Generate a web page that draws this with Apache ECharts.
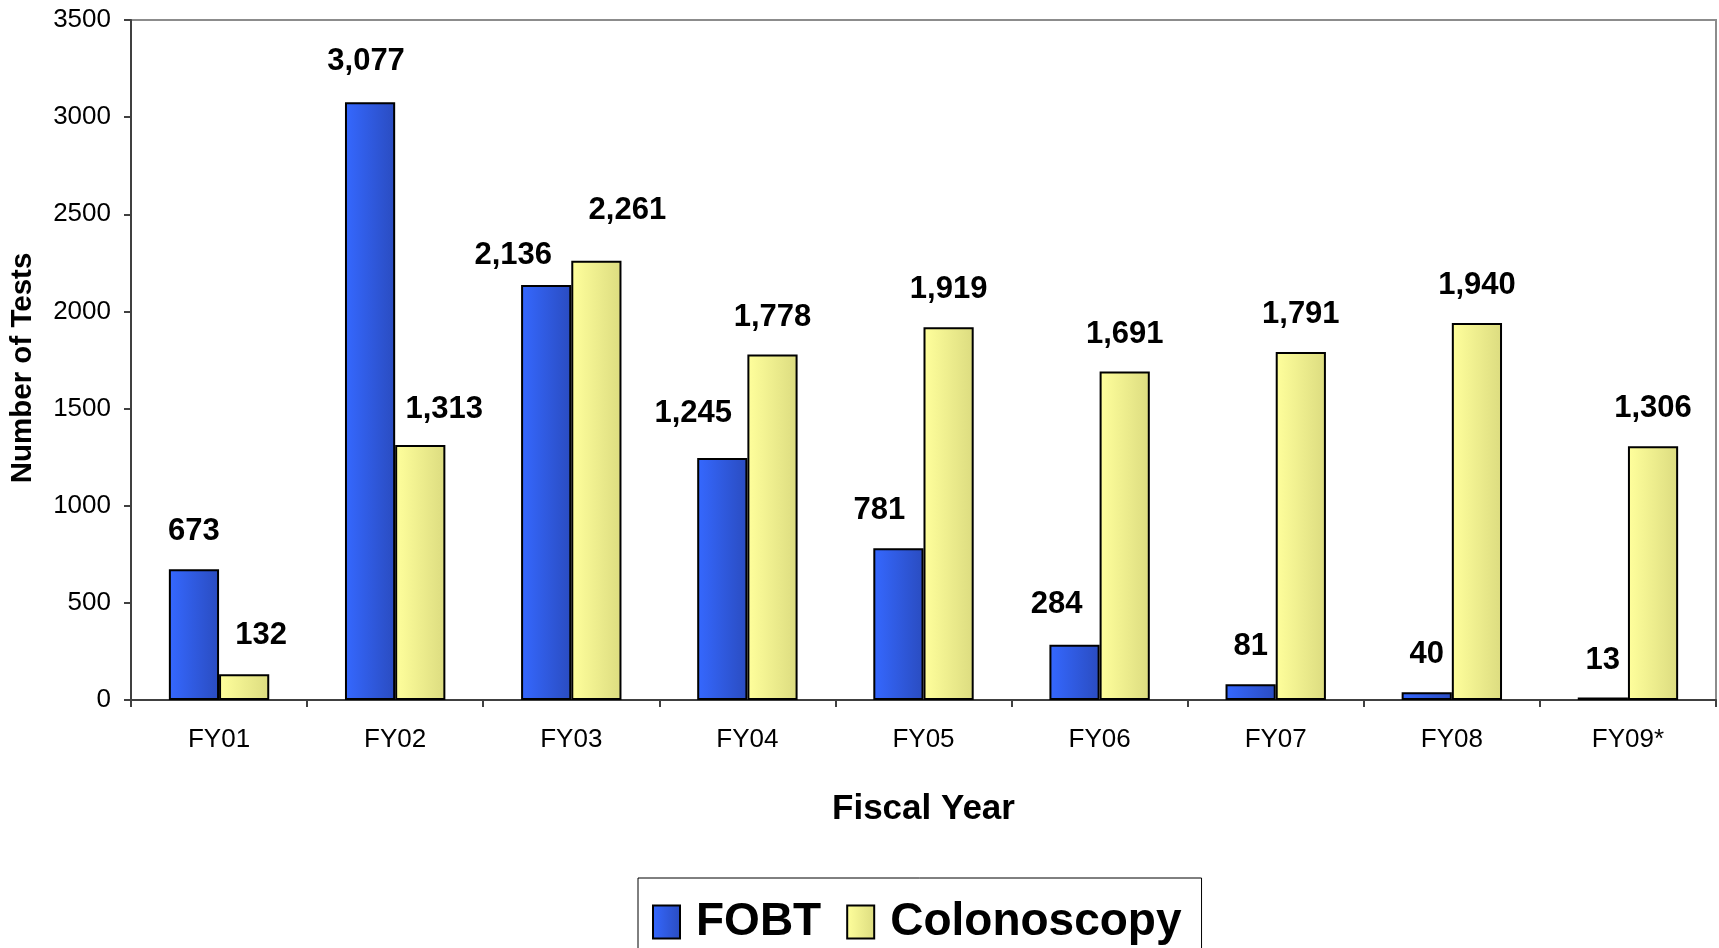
<!DOCTYPE html>
<html>
<head>
<meta charset="utf-8">
<title>Number of Tests by Fiscal Year</title>
<script src="https://cdn.jsdelivr.net/npm/echarts@6/dist/echarts.min.js"></script>
<style>
  html, body { margin: 0; padding: 0; background: #fff; }
  #chart { width: 1719px; height: 948px; }
</style>
</head>
<body>
<div id="chart"></div>
<script>
// data
const years = ["FY01", "FY02", "FY03", "FY04", "FY05", "FY06", "FY07", "FY08", "FY09*"];
const fobt = [673, 3077, 2136, 1245, 781, 284, 81, 40, 13];
const colonoscopy = [132, 1313, 2261, 1778, 1919, 1691, 1791, 1940, 1306];
const yTicks = [0, 500, 1000, 1500, 2000, 2500, 3000, 3500];

// label nudges (x, y) so the labels don't collide, like the original
const fobtLabelShift = [[0, 0], [-4, -3], [-33, 8], [-29, -7], [-19, 0], [-18, -3], [0, 0], [0, 0], [0, 0]];
const colLabelShift = [[17, -1], [24, 2], [31, -13], [0, 0], [0, 0], [0, 0], [0, 0], [0, 0], [0, 0]];

const FONT = "'Liberation Sans', Arial, sans-serif";

const chart = echarts.init(document.getElementById("chart"));

// left-to-right shading, like the old Excel fill
const grad = (c1, c2) =>
  new echarts.graphic.LinearGradient(0, 0, 1, 0, [
    { offset: 0, color: c1 },
    { offset: 1, color: c2 },
  ]);

const fmt = (v) => Number(v).toLocaleString("en-US");

const makeData = (values, shifts) =>
  values.map((value, i) => ({
    value,
    label: { offset: shifts[i] },
  }));

const barLabel = {
  show: true,
  position: "top",
  distance: 22,
  fontFamily: FONT,
  fontSize: 31,
  fontWeight: "bold",
  color: "#000",
  formatter(p) {
    return fmt(p.value);
  },
};

chart.setOption({
  animation: false,
  backgroundColor: "#fff",
  textStyle: { fontFamily: FONT },
  grid: {
    left: 131,
    right: 3,
    top: 20,
    bottom: 248,
    show: true,
    borderColor: "#8c8c8c",
    borderWidth: 2,
    backgroundColor: "transparent",
  },
  legend: {
    data: ["FOBT", "Colonoscopy"],
    left: 638,
    top: 878,
    orient: "horizontal",
    icon: "rect",
    itemWidth: 27,
    itemHeight: 33,
    itemGap: 25,
    padding: [21, 20, 40, 14],
    borderColor: "#000",
    borderWidth: 1,
    backgroundColor: "#fff",
    textStyle: {
      fontFamily: FONT,
      fontSize: 46,
      fontWeight: "bold",
      color: "#000",
      padding: [0, 0, 0, 11],
    },
  },
  xAxis: {
    type: "category",
    data: years,
    name: "Fiscal Year",
    nameLocation: "middle",
    nameGap: 92,
    nameTextStyle: { fontFamily: FONT, fontSize: 35, fontWeight: "bold", color: "#000" },
    axisLine: { lineStyle: { color: "#404040", width: 2 } },
    axisTick: { show: true, length: 7, lineStyle: { color: "#404040", width: 2 } },
    axisLabel: { fontFamily: FONT, fontSize: 26, color: "#000", margin: 27 },
  },
  yAxis: {
    type: "value",
    min: yTicks[0],
    max: yTicks[yTicks.length - 1],
    interval: yTicks[1] - yTicks[0],
    name: "Number of Tests",
    nameLocation: "middle",
    nameRotate: 90,
    nameGap: 93,
    nameTextStyle: {
      fontFamily: FONT,
      fontSize: 29.5,
      fontWeight: "bold",
      color: "#000",
      padding: [0, 16, 0, 0], // nudges the title a bit lower
    },
    axisLine: { show: true, lineStyle: { color: "#404040", width: 2 } },
    axisTick: { show: true, length: 7, lineStyle: { color: "#404040", width: 2 } },
    axisLabel: {
      fontFamily: FONT,
      fontSize: 26,
      color: "#000",
      margin: 20,
      formatter(v) {
        return String(v);
      },
    },
    splitLine: { show: false },
  },
  series: [
    {
      name: "FOBT",
      type: "bar",
      barGap: "0%",
      barCategoryGap: "43%",
      data: makeData(fobt, fobtLabelShift),
      itemStyle: {
        color: grad("#3568ff", "#2a4cc0"),
        borderColor: "#000",
        borderWidth: 2,
      },
      label: barLabel,
    },
    {
      name: "Colonoscopy",
      type: "bar",
      data: makeData(colonoscopy, colLabelShift),
      itemStyle: {
        color: grad("#ffff9c", "#dcdc80"),
        borderColor: "#000",
        borderWidth: 2,
      },
      label: barLabel,
    },
  ],
});
</script>
</body>
</html>
